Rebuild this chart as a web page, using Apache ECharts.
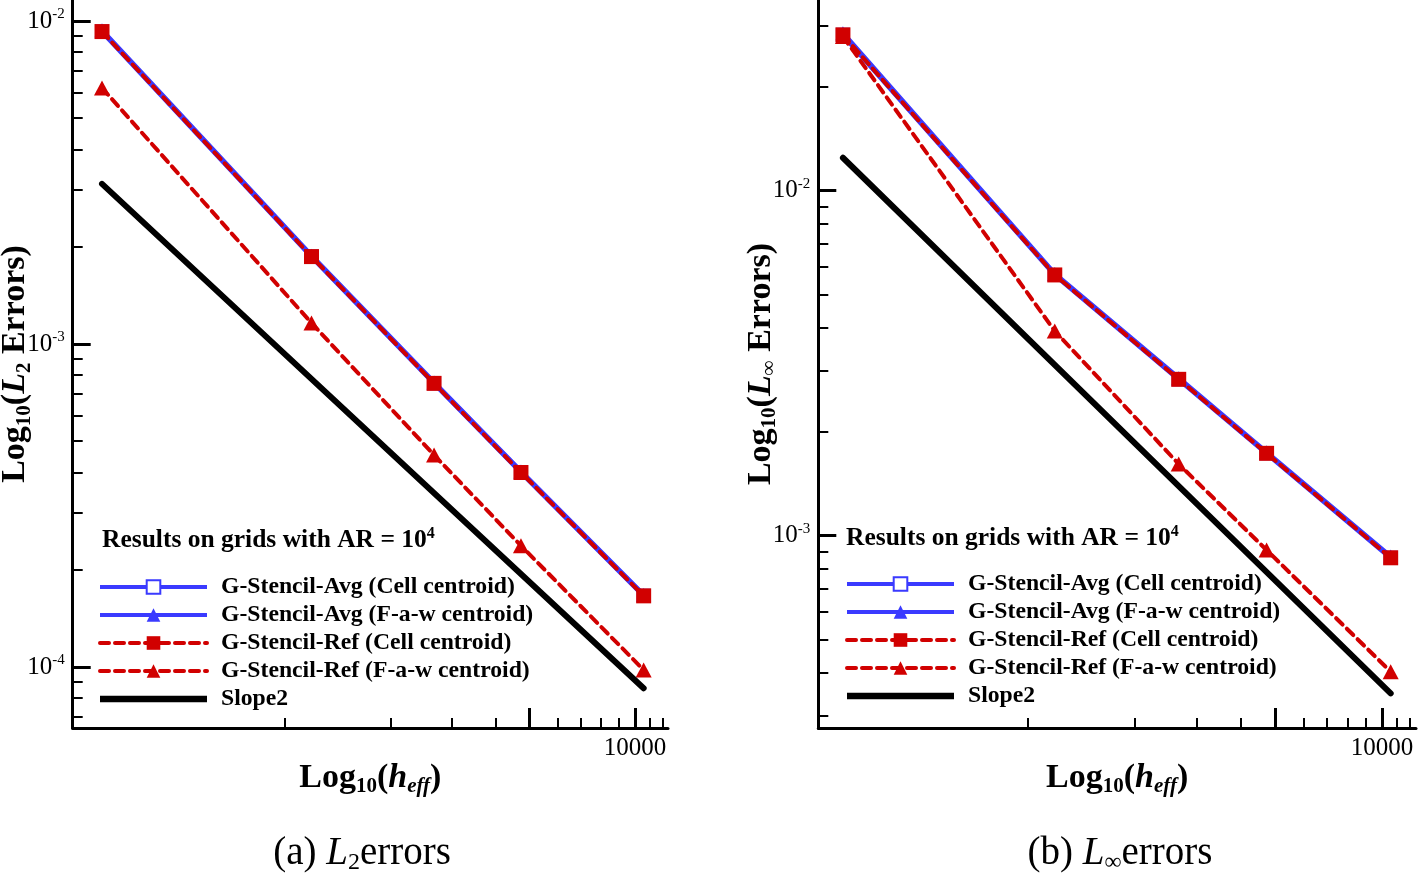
<!DOCTYPE html>
<html><head><meta charset="utf-8">
<script src="https://cdn.jsdelivr.net/npm/echarts@6/dist/echarts.min.js"></script>
<style>html,body{margin:0;padding:0;background:#fff}#c{width:1419px;height:879px}</style>
</head><body><div id="c"></div>
<script>
// ---------- data ----------
const hEff = [300, 1190, 2665, 4720, 10580];
const slopeX = [300, 10580];
const seriesNames = ['G-Stencil-Avg (Cell centroid)', 'G-Stencil-Avg (F-a-w centroid)', 'G-Stencil-Ref (Cell centroid)', 'G-Stencil-Ref (F-a-w centroid)', 'Slope2'];

const l2AvgCell = [9.27e-3, 1.864e-3, 7.55e-4, 4.01e-4, 1.66e-4];
const l2AvgFaw  = [9.35e-3, 1.875e-3, 7.60e-4, 4.03e-4, 1.67e-4];
const l2RefCell = [9.27e-3, 1.864e-3, 7.55e-4, 4.00e-4, 1.66e-4];
const l2RefFaw  = [6.20e-3, 1.161e-3, 4.53e-4, 2.374e-4, 9.79e-5];
const l2Slope   = [3.13e-3, 8.59e-5];

const liAvgCell = [2.83e-2, 5.70e-3, 2.84e-3, 1.733e-3, 8.63e-4];
const liAvgFaw  = [2.86e-2, 5.74e-3, 2.86e-3, 1.745e-3, 8.70e-4];
const liRefCell = [2.83e-2, 5.70e-3, 2.84e-3, 1.733e-3, 8.63e-4];
const liRefFaw  = [2.80e-2, 3.92e-3, 1.613e-3, 9.09e-4, 4.035e-4];
const liSlope   = [1.246e-2, 3.49e-4];

// ticks
const xMajorTicks = [5000, 10000];
const xMinorTicks = [1000, 2000, 3000, 4000, 6000, 7000, 8000, 9000, 11000, 12000];
const xTickLabels = [10000];
const l2MajorTicks = [1e-4, 1e-3, 1e-2];
const l2MinorTicks = [7e-5, 8e-5, 9e-5, 2e-4, 3e-4, 4e-4, 5e-4, 6e-4, 7e-4, 8e-4, 9e-4, 2e-3, 3e-3, 4e-3, 5e-3, 6e-3, 7e-3, 8e-3, 9e-3];
const liMajorTicks = [1e-3, 1e-2];
const liMinorTicks = [3e-4, 4e-4, 5e-4, 6e-4, 7e-4, 8e-4, 9e-4, 2e-3, 3e-3, 4e-3, 5e-3, 6e-3, 7e-3, 8e-3, 9e-3, 2e-2, 3e-2];

// axis ranges (raw units)
const l2XRange = [247.4, 12417];
const l2YRange = [6.471e-5, 1.161e-2];
const liXRange = [255.6, 12474];
const liYRange = [2.771e-4, 3.571e-2];

// ---------- helpers ----------
const lg = Math.log10;
const F = 'Liberation Serif';
const BLUE = '#3a3aff', RED = '#d10000';
const pts = (xs, ys) => ys.map((y, i) => [lg(xs[i]), lg(y)]);

const tickRich = {
  n: {fontFamily: F, fontSize: 25, lineHeight: 28, color: '#000'},
  s: {fontFamily: F, fontSize: 15, lineHeight: 14, verticalAlign: 'top', color: '#000'}
};
const nameRich = {
  b: {fontFamily: F, fontSize: 34, fontWeight: 'bold', lineHeight: 38, color: '#000'},
  bi: {fontFamily: F, fontSize: 34, fontWeight: 'bold', fontStyle: 'italic', lineHeight: 38, color: '#000'},
  sub: {fontFamily: F, fontSize: 21, fontWeight: 'bold', lineHeight: 16, verticalAlign: 'bottom', color: '#000'},
  subi: {fontFamily: F, fontSize: 21, fontWeight: 'bold', fontStyle: 'italic', lineHeight: 16, verticalAlign: 'bottom', color: '#000'}
};

function mainX(grid, range) {
  return {
    type: 'value', gridIndex: grid, min: lg(range[0]), max: lg(range[1]),
    axisLine: {onZero: false, lineStyle: {color: '#000', width: 3}},
    axisTick: {inside: true, length: 20, lineStyle: {color: '#000', width: 3}, customValues: xMajorTicks.map(lg)},
    axisLabel: {customValues: xTickLabels.map(lg), formatter: v => String(Math.round(Math.pow(10, v))), margin: 8,
      fontFamily: F, fontSize: 25, color: '#000'},
    splitLine: {show: false},
    name: '{b|Log}{sub|10}{b|(}{bi|h}{subi|eff}{b|)}', nameLocation: 'middle', nameGap: 31, nameMoveOverlap: false,
    nameTextStyle: {rich: nameRich}
  };
}
function minorX(grid, range) {
  return {
    type: 'value', gridIndex: grid, min: lg(range[0]), max: lg(range[1]),
    axisLine: {show: false},
    axisTick: {inside: true, length: 10, lineStyle: {color: '#000', width: 2}, customValues: xMinorTicks.map(lg)},
    axisLabel: {show: false}, splitLine: {show: false}
  };
}
function mainY(grid, range, majors, nameSub) {
  return {
    type: 'value', gridIndex: grid, min: lg(range[0]), max: lg(range[1]),
    axisLine: {onZero: false, lineStyle: {color: '#000', width: 3}},
    axisTick: {inside: true, length: 18, lineStyle: {color: '#000', width: 3}, customValues: majors.map(lg)},
    axisLabel: {customValues: majors.map(lg), formatter: v => '{n|10}{s|' + Math.round(v) + '}', margin: 8, rich: tickRich},
    splitLine: {show: false},
    name: '{b|Log}{sub|10}{b|(}{bi|L}{sub|' + nameSub + '}{b| Errors)}', nameLocation: 'middle', nameGap: 38, nameRotate: 90,
    nameMoveOverlap: false,
    nameTextStyle: {rich: nameRich}
  };
}
function minorY(grid, range, minors) {
  return {
    type: 'value', gridIndex: grid, min: lg(range[0]), max: lg(range[1]),
    axisLine: {show: false},
    axisTick: {inside: true, length: 10, lineStyle: {color: '#000', width: 2}, customValues: minors.map(lg)},
    axisLabel: {show: false}, splitLine: {show: false}
  };
}
function makeSeries(idx, avgCell, avgFaw, refCell, refFaw, slope) {
  const base = {type: 'line', xAxisIndex: idx, yAxisIndex: idx, silent: true, emphasis: {disabled: true}, animation: false};
  return [
    Object.assign({}, base, {name: seriesNames[0], data: pts(hEff, avgCell), symbol: 'emptyRect', symbolSize: 12,
      itemStyle: {color: BLUE, borderWidth: 2}, lineStyle: {color: BLUE, width: 5}, z: 2}),
    Object.assign({}, base, {name: seriesNames[1], data: pts(hEff, avgFaw), symbol: 'triangle', symbolSize: [15, 14],
      itemStyle: {color: BLUE}, lineStyle: {color: BLUE, width: 5}, z: 2}),
    Object.assign({}, base, {name: seriesNames[2], data: pts(hEff, refCell), symbol: 'rect', symbolSize: 15,
      itemStyle: {color: RED}, lineStyle: {color: RED, width: 4, type: [9, 6], cap: 'round'}, z: 3}),
    Object.assign({}, base, {name: seriesNames[3], data: pts(hEff, refFaw), symbol: 'triangle', symbolSize: [16, 15],
      itemStyle: {color: RED}, lineStyle: {color: RED, width: 4, type: [9, 6], cap: 'round'}, z: 3}),
    Object.assign({}, base, {name: seriesNames[4], data: pts(slopeX, slope), symbol: 'none', showSymbol: false,
      itemStyle: {color: '#000'}, lineStyle: {color: '#000', width: 6, cap: 'round'}, z: 4})
  ];
}
function makeLegend(left, top) {
  return {
    left: left, top: top, padding: 0, orient: 'vertical', itemWidth: 107, itemHeight: 17, itemGap: 4, selectedMode: false,
    lineStyle: {width: 4},
    textStyle: {fontFamily: F, fontSize: 23.7, fontWeight: 'bold', color: '#000', lineHeight: 24, padding: [0, 0, 0, 9]},
    data: seriesNames.slice(0, 4).concat([{name: seriesNames[4], icon: 'path://M0,0H100V6H0Z'}])
  };
}
function txt(x, y, text, rich, align) {
  return {type: 'text', x: x, y: y, silent: true,
    style: {text: text, rich: rich, align: align, verticalAlign: 'middle', textAlign: align, textVerticalAlign: 'middle'}};
}
const headRich = {
  b: {fontFamily: F, fontSize: 25.5, fontWeight: 'bold', lineHeight: 28, color: '#000'},
  sp: {fontFamily: F, fontSize: 16, fontWeight: 'bold', lineHeight: 14, verticalAlign: 'top', color: '#000'}
};
const capRich = {
  n: {fontFamily: F, fontSize: 39, lineHeight: 42, color: '#000'},
  i: {fontFamily: F, fontSize: 39, fontStyle: 'italic', lineHeight: 42, color: '#000'},
  sb: {fontFamily: F, fontSize: 24, lineHeight: 18, verticalAlign: 'bottom', color: '#000'}
};

const grids = [
  {left: 72.7, top: 0, width: 595.3, height: 728, outerBoundsMode: 'none', containLabel: false},
  {left: 818.3, top: 0, width: 597.7, height: 728, outerBoundsMode: 'none', containLabel: false},
  {left: 72.7, top: 0, width: 595.3, height: 728, outerBoundsMode: 'none', containLabel: false},
  {left: 818.3, top: 0, width: 597.7, height: 728, outerBoundsMode: 'none', containLabel: false}
];

const chart = echarts.init(document.getElementById('c'), null, {renderer: 'canvas'});
chart.setOption({
  animation: false,
  backgroundColor: '#fff',
  grid: grids,
  xAxis: [mainX(0, l2XRange), mainX(1, liXRange), minorX(2, l2XRange), minorX(3, liXRange)],
  yAxis: [mainY(0, l2YRange, l2MajorTicks, '2'), mainY(1, liYRange, liMajorTicks, '\u221e'),
          minorY(2, l2YRange, l2MinorTicks), minorY(3, liYRange, liMinorTicks)],
  legend: [makeLegend(98, 575), makeLegend(845, 572)],
  series: makeSeries(0, l2AvgCell, l2AvgFaw, l2RefCell, l2RefFaw, l2Slope)
    .concat(makeSeries(1, liAvgCell, liAvgFaw, liRefCell, liRefFaw, liSlope)),
  graphic: [
    txt(102, 540, '{b|Results on grids with AR = 10}{sp|4}', headRich, 'left'),
    txt(846, 538, '{b|Results on grids with AR = 10}{sp|4}', headRich, 'left'),
    txt(362, 854, '{n|(a) }{i|L}{sb|2}{n|errors}', capRich, 'center'),
    txt(1120, 854, '{n|(b) }{i|L}{sb|\u221e}{n|errors}', capRich, 'center')
  ]
});
</script></body></html>
